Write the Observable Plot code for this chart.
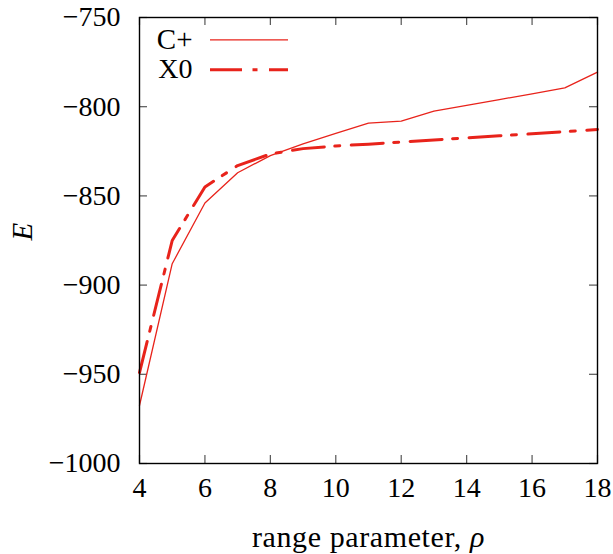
<!DOCTYPE html>
<html>
<head>
<meta charset="utf-8">
<script src="https://cdn.jsdelivr.net/npm/d3@7"></script>
<script src="https://cdn.jsdelivr.net/npm/@observablehq/plot@0.6"></script>
<style>
  html, body { margin: 0; padding: 0; background: #fff; }
  svg { display: block; }
  #chart svg, #chart svg text, #chart svg g { font-family: 'Liberation Serif', 'DejaVu Serif', serif !important; }
</style>
</head>
<body>
<div id="chart"></div>
<script>
const rho = [4, 5, 6, 7, 8, 9, 10, 11, 12, 13, 14, 15, 16, 17, 18];
const cPlus = [-967.5, -888, -854, -837, -827.4, -820.8, -815, -809.2, -808.1, -802.5, -799.3, -796, -792.8, -789.4, -780.6];
const x0 = [-949, -875, -845, -833, -826.5, -823.5, -822, -821, -819.8, -818.6, -817.5, -816.3, -815.2, -814, -812.8];
const xTicks = [4, 6, 8, 10, 12, 14, 16, 18];
const yTicks = [-1000, -950, -900, -850, -800, -750];
const seriesNames = ["C+", "X0"];
const xLabel = "range parameter, ρ";
const yLabel = "E";

const red = "#e8231b";
const W = 613, H = 554;
const mL = 139, mR = 16, mT = 17, mB = 91;
const innerW = W - mL - mR, innerH = H - mT - mB;
const tickLen = 8;

const dataC = rho.map((r, i) => ({rho: r, E: cPlus[i]}));
const dataX = rho.map((r, i) => ({rho: r, E: x0[i]}));
const fmt = d3.format("d");

const plot = Plot.plot({
  width: W,
  height: H,
  marginLeft: mL,
  marginRight: mR,
  marginTop: mT,
  marginBottom: mB,
  style: {fontSize: "28px", background: "#fff", color: "#000", fontFamily: "'Liberation Serif', serif"},
  x: {domain: [4, 18]},
  y: {domain: [-1000, -750]},
  marks: [
    Plot.axisX(xTicks, {tickSize: 0, tickPadding: 14, label: null, fontSize: 28, tickFormat: fmt}),
    Plot.axisY(yTicks, {tickSize: 0, tickPadding: 19, label: null, fontSize: 28, tickFormat: fmt}),
    // inward ticks (bottom/top/left/right)
    Plot.tickX(xTicks, {x: d => d, insetTop: innerH - tickLen, stroke: "#555", strokeWidth: 1.2}),
    Plot.tickX(xTicks, {x: d => d, insetBottom: innerH - tickLen, stroke: "#555", strokeWidth: 1.2}),
    Plot.tickY(yTicks, {y: d => d, insetRight: innerW - tickLen, stroke: "#555", strokeWidth: 1.2}),
    Plot.tickY(yTicks, {y: d => d, insetLeft: innerW - tickLen, stroke: "#555", strokeWidth: 1.2}),
    Plot.line(dataC, {x: "rho", y: "E", stroke: red, strokeWidth: 1.3}),
    Plot.line(dataX, {x: "rho", y: "E", stroke: red, strokeWidth: 3, strokeDasharray: "32,10.5,5,11.5"}),
    Plot.frame({stroke: "#000", strokeWidth: 1.4}),
    // legend
    Plot.text([seriesNames[0]], {text: d => d, frameAnchor: "top-left", dx: 53, dy: 22, textAnchor: "end", lineAnchor: "middle", fontSize: 29}),
    Plot.text([seriesNames[1]], {text: d => d, frameAnchor: "top-left", dx: 53, dy: 52, textAnchor: "end", lineAnchor: "middle", fontSize: 28}),
    Plot.ruleY([-750], {insetLeft: 71, insetRight: 309, dy: 22.3, stroke: red, strokeWidth: 1.3}),
    Plot.ruleY([-750], {insetLeft: 71, insetRight: 309, dy: 52.3, stroke: red, strokeWidth: 3, strokeDasharray: "32,10.5,5,11.5"}),
    // axis labels
    Plot.text([xLabel], {text: d => d, frameAnchor: "bottom", dy: 74, lineAnchor: "middle", fontSize: 30, className: "xlab"}),
    Plot.text([yLabel], {text: d => d, frameAnchor: "left", dx: -117, rotate: -90, lineAnchor: "middle", fontSize: 29, fontStyle: "italic"})
  ]
});

// italicize the trailing Greek letter of the x label
const xl = plot.querySelector(".xlab text");
if (xl) {
  const full = xl.textContent;
  const head = full.slice(0, -1), tail = full.slice(-1);
  xl.textContent = head;
  const ts = document.createElementNS("http://www.w3.org/2000/svg", "tspan");
  ts.setAttribute("font-style", "italic");
  ts.textContent = tail;
  xl.appendChild(ts);
  xl.setAttribute("letter-spacing", "0.6px");
}

document.getElementById("chart").appendChild(plot);
</script>
</body>
</html>
